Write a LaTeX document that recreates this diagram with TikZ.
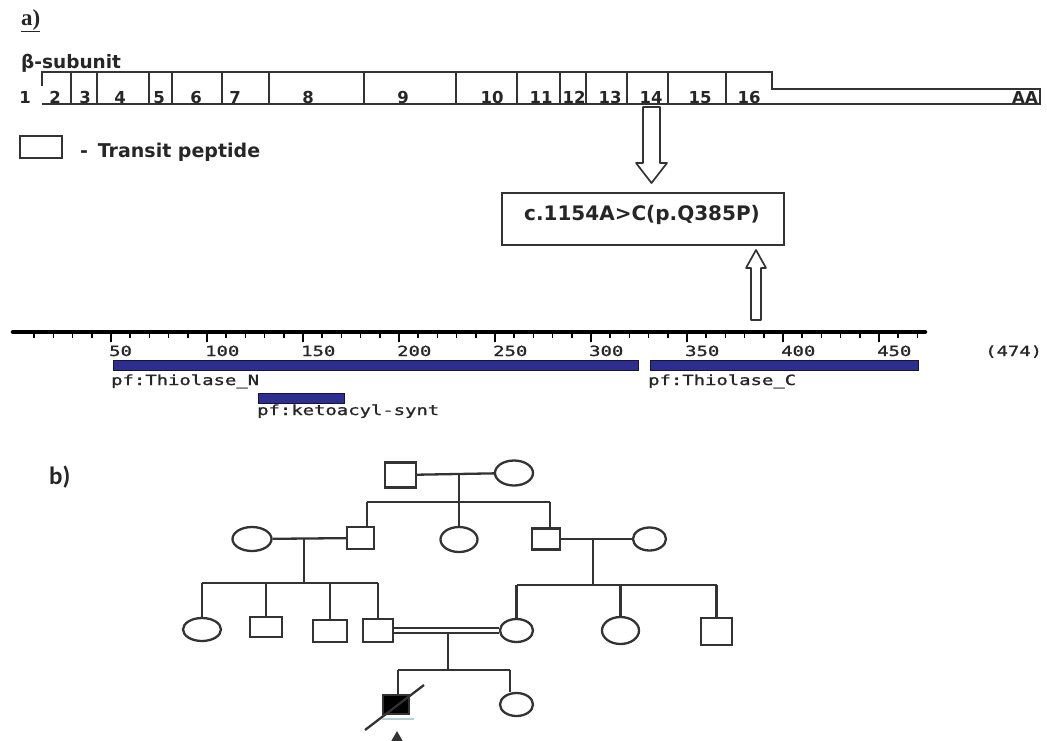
\documentclass[tikz,border=0pt]{standalone}
\usepackage{fontspec}
\setmainfont{DejaVu Sans}
\newfontfamily\rulerfont[FakeStretch=1.35,FakeBold=1.2]{DejaVu Sans Mono}
\newfontfamily\panelfont{Carlito}
\newfontfamily\serfont{Liberation Serif}
\usetikzlibrary{shapes.geometric, arrows.meta}

\begin{document}
\begin{tikzpicture}[x=1pt,y=-1pt,
    gline/.style={line width=1.9pt, draw=black!80},
    hollow/.style={line width=1.7pt, draw=black!80, fill=white, line join=round},
    exnum/.style={font=\bfseries\fontsize{16.5}{18}\selectfont, anchor=base, inner sep=0, text=black!85},
    gtext/.style={font=\bfseries\fontsize{19}{22}\selectfont, inner sep=0, text=black!85},
    rtext/.style={font=\rulerfont\fontsize{14}{16}\selectfont, inner sep=0, anchor=base west, text=black!85},
    dom/.style={fill={rgb,255:red,46;green,46;blue,145}, draw={rgb,255:red,20;green,20;blue,60}, line width=1pt},
    ped/.style={line width=2.3pt, draw=black!80},
    male/.style={rectangle, draw=black!80, line width=2.3pt, inner sep=0},
    female/.style={ellipse, draw=black!80, line width=2.3pt, inner sep=0}]

  \useasboundingbox (0,0) rectangle (1047,740);

  \node[font=\serfont\bfseries\fontsize{23}{25}\selectfont, anchor=base west, inner sep=0, text=black!85] (pa) at (21,25) {\underline{a)}};
  \node[gtext, font=\bfseries\fontsize{18.5}{22}\selectfont, anchor=base west] (beta) at (21,68) {β-subunit};

  \draw[gline] (42,86) -- (42,72) -- (772,72) -- (772,89) -- (1040,89) -- (1040,104) -- (42,104);
  \foreach \x in {71,97,149,172,222,269,364,456,517,560,586,627,668,726}
    \draw[gline] (\x,72) -- (\x,104);
  \foreach \n/\x in {1/25,2/55,3/85,4/120,5/159,6/196,7/235,8/308,9/403,10/492,11/541,12/574,13/610,14/651,15/700,16/749}
    \node[exnum] (ex\n) at (\x,103) {\n};
  \node[exnum] (aa) at (1025,103) {AA};

  \node[draw=black!80, line width=1.7pt, minimum width=42, minimum height=22, inner sep=0] (legbox) at (41,147) {};
  \node[gtext, anchor=base west] (legtext) at (80,157) {-\, Transit peptide};

  \coordinate (dn) at (651.5,107);
  \draw[hollow] (dn) ++(-8.5,0) -- ++(0,56) -- ++(-7,0) -- ++(15.5,20) -- ++(15.5,-20) -- ++(-7,0) -- ++(0,-56) -- cycle;

  \node[draw=black!80, line width=2.2pt, minimum width=282, minimum height=52, inner sep=0] (mut) at (643,219) {};
  \node[gtext, font=\bfseries\fontsize{20}{22}\selectfont, anchor=base] (muttext) at (642,220) {c.1154A>C(p.Q385P)};

  \coordinate (up) at (756,320);
  \draw[hollow] (up) ++(-5,0) -- ++(0,-52) -- ++(-5,0) -- ++(10,-18) -- ++(10,18) -- ++(-5,0) -- ++(0,52) -- cycle;

  \draw[line width=4.5pt, line cap=round] (13,332) -- (925,332);
  \foreach \i in {1,...,47}
    \draw[line width=1.5pt] (15+19.2*\i,332) -- ++(0,5.5);
  \foreach \v in {50,100,...,450} {
    \draw[line width=1.8pt] (15+1.92*\v,332) -- ++(0,10);
    \node[rtext] (lab\v) at (13+1.92*\v,356) {\v};
  }
  \node[rtext] (total) at (985,356) {(474)};

  \draw[dom] (113,360) rectangle (638,370);
  \draw[dom] (650,360) rectangle (918,370);
  \draw[dom] (258,393) rectangle (344,403);
  \node[rtext] (thn) at (111,385) {pf:Thiolase\_N};
  \node[rtext] (thc) at (648,385) {pf:Thiolase\_C};
  \node[rtext] (keto) at (257,415) {pf:ketoacyl-synt};

  \node[font=\panelfont\bfseries\fontsize{25}{27}\selectfont, anchor=base west, inner sep=0, text=black!85] (pb) at (49,484) {b)};

  \foreach \n/\x/\y/\w/\h in {I1/400.5/475/31/25, II2/360.5/538/27/22, II4/546/539/28/21,
      III2/266/627/32/20, III3/330/631/34/22, III4/378/630.5/30/23, III7/716.5/631.5/31/27}
    \node[male, minimum width=\w, minimum height=\h] (\n) at (\x,\y) {};
  \foreach \n/\x/\y/\w/\h in {I2/514/473/38/25, II1/252/539/39/24, II3/459/539.5/37/25, II5/649.5/539/33/23,
      III1/202/629.5/38/23, III5/516.5/630.5/33/23, III6/620.5/630.5/37/27, IV2/516.5/704.5/33/23}
    \node[female, minimum width=\w, minimum height=\h] (\n) at (\x,\y) {};
  \node[male, fill=black, minimum width=26, minimum height=19] (IV1) at (396,704.5) {};

  \draw[ped] (I1) -- (I2);
  \coordinate (m1) at (459,475);
  \coordinate (s1) at (459,502);
  \coordinate (s1l) at (367,502);
  \coordinate (s1r) at (550,502);
  \draw[ped] (m1) -- (s1);
  \draw[ped] (s1l) -- (s1r);
  \draw[ped] (s1l) -- (s1l |- II2.north);
  \draw[ped] (s1) -- (II3);
  \draw[ped] (s1r) -- (s1r |- II4.north);

  \draw[ped] (II1) -- (II2);
  \coordinate (m2) at (304,539);
  \coordinate (s2) at (304,583);
  \draw[ped] (m2) -- (s2);
  \draw[ped] (III1 |- s2) -- (III4 |- s2);
  \foreach \c in {III1,III2,III3,III4}
    \draw[ped] (\c |- s2) -- (\c.north);

  \draw[ped] (II4) -- (II5);
  \coordinate (m3) at (593,539);
  \coordinate (s3) at (593,585);
  \draw[ped] (m3) -- (s3);
  \draw[ped] (III5 |- s3) -- (III7 |- s3);
  \foreach \c in {III5,III6,III7}
    \draw[ped] (\c |- s3) -- (\c.north);

  \draw[ped, line width=1.8pt, double=white, double distance=2.6pt] (III4) -- (III5);
  \coordinate (m4) at (448,633);
  \coordinate (s4) at (448,670);
  \coordinate (s4l) at (398,670);
  \coordinate (s4r) at (510,670);
  \draw[ped] (m4) -- (s4);
  \draw[ped] (s4l) -- (s4r);
  \draw[ped] (s4l) -- (s4l |- IV1.north);
  \draw[ped] (s4r) -- (s4r |- IV2.north);

  \draw[ped] ([shift={(-31,25.5)}]IV1.center) -- ([shift={(28,-19.5)}]IV1.center);
  \draw[cyan!30!gray!50, line width=1.4pt] ([yshift=-4]IV1.south west) -- ++(32,0);
  \coordinate (prb) at (397,760);
  \coordinate (prt) at (397,731);
  \draw[ped, -{Triangle[length=11pt,width=12pt]}] (prb) -- (prt);

\end{tikzpicture}
\end{document}
